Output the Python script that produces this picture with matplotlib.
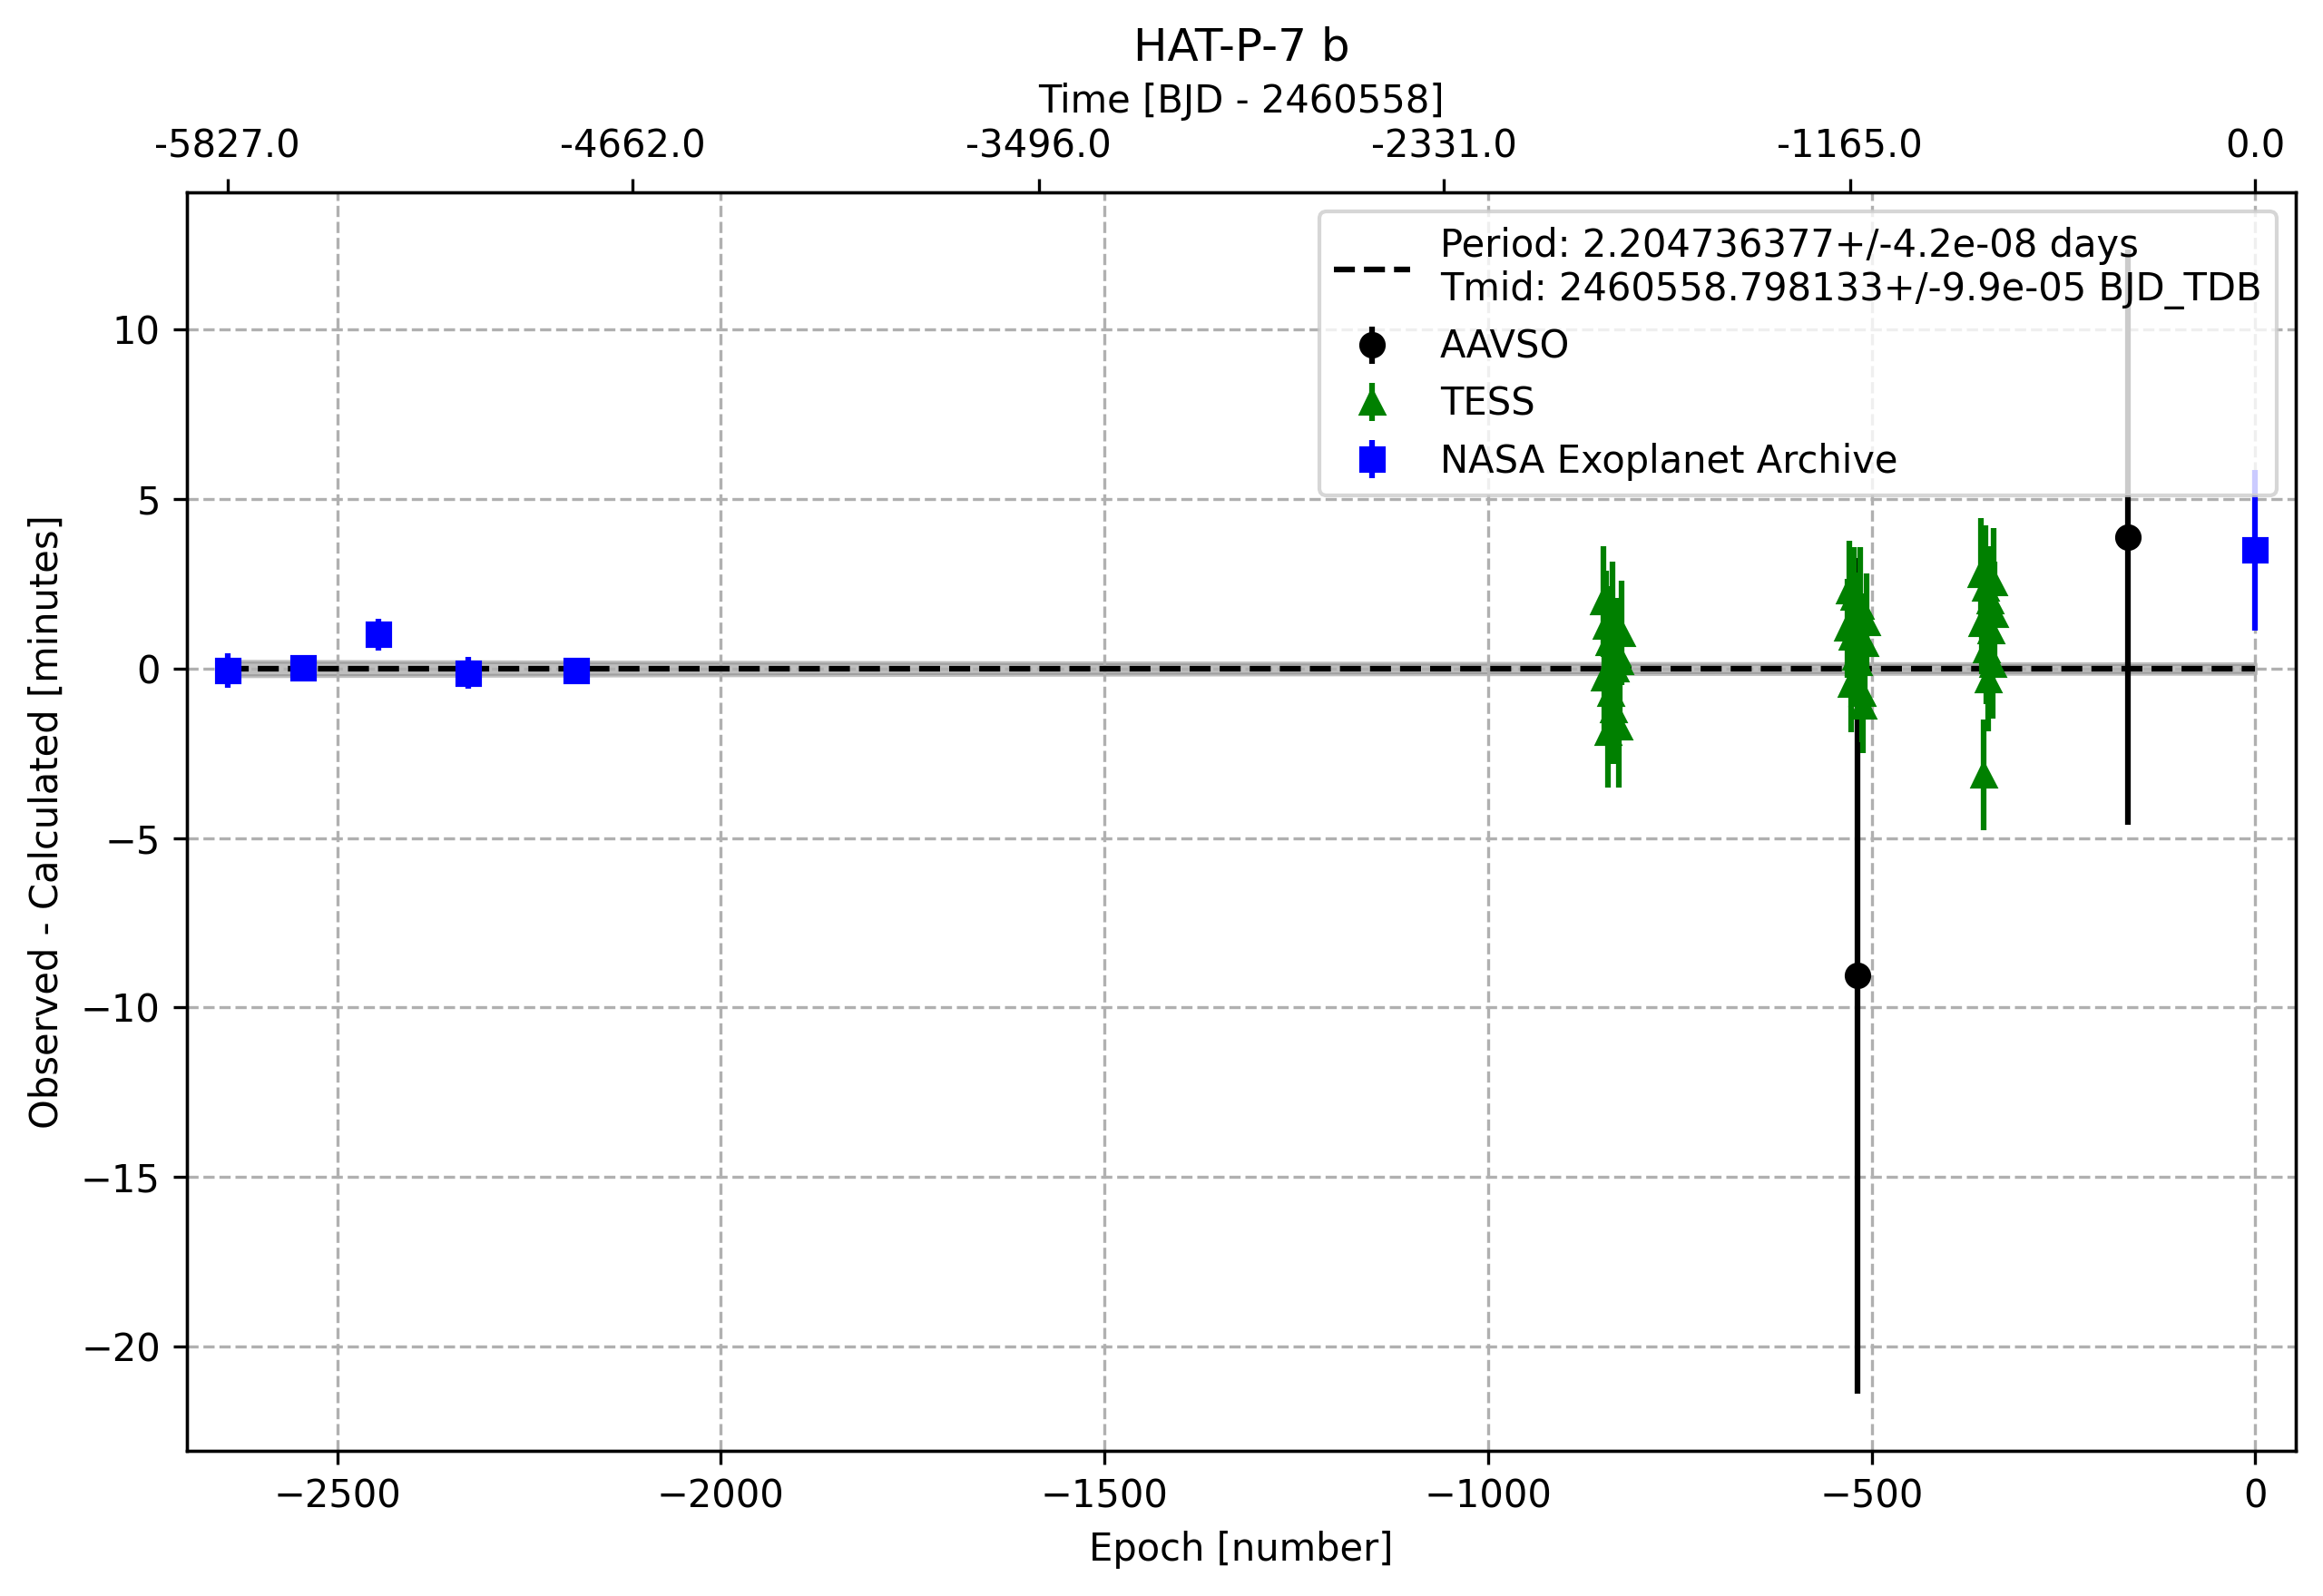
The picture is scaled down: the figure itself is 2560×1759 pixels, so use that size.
import numpy as np
import matplotlib
matplotlib.use("Agg")
import matplotlib.pyplot as plt

# Ephemeris fit shown in the legend
PERIOD = 2.204736377
PERIOD_ERR = 4.2e-08
TMID = 2460558.798133
TMID_ERR = 9.9e-05

# AAVSO observations (epoch, O-C minutes, error minutes)
aavso_epoch = [-519, -166]
aavso_oc = [-9.06, 3.88]
aavso_err = [12.33, 8.48]

# TESS observations, three groups of sectors
tess_epoch = [
    -850, -848, -846, -844, -842, -840, -838, -836, -834, -832, -830, -828, -826,
    -531, -529, -527, -525, -523, -521, -519, -517, -515, -513, -511, -509, -507,
    -358, -356, -354, -352, -350, -348, -346, -344, -342, -341, -340,
]
tess_oc = [
    1.97, -0.28, 1.25, -1.89, 0.77, -0.73, 1.52, -1.22, -0.01, 0.45, -1.73, 0.20, 1.05,
    1.19, 2.30, -0.47, 0.94, 2.10, 0.35, 1.58, 0.17, 1.83, -0.72, -1.10, 0.74, 1.35,
    2.77, 1.34, -3.13, 2.37, 0.56, -0.33, 2.01, 1.12, 0.13, 2.55, 1.60,
]
tess_err = [
    1.64, 1.55, 1.64, 1.61, 1.66, 1.58, 1.63, 1.60, 1.57, 1.62, 1.77, 1.60, 1.55,
    1.45, 1.48, 1.40, 1.50, 1.48, 1.45, 1.26, 1.50, 1.75, 1.45, 1.40, 1.48, 1.45,
    1.68, 1.50, 1.63, 1.86, 1.60, 1.53, 1.60, 1.50, 1.60, 1.60, 1.55,
]

# NASA Exoplanet Archive
nasa_epoch = [-2643, -2544, -2446, -2329, -2189, 0]
nasa_oc = [-0.06, 0.02, 1.00, -0.13, -0.05, 3.49]
nasa_err = [0.50, 0.20, 0.46, 0.46, 0.15, 2.37]

# top axis tick labels (days relative to Tmid)
time_ticks = [-5827.0, -4662.0, -3496.0, -2331.0, -1165.0, 0.0]

fig = plt.figure(figsize=(2560 / 300, 1759 / 300), dpi=300)
ax = fig.add_axes([206 / 2560, 1 - 1599 / 1759, (2530 - 206) / 2560, (1599 - 212) / 1759])

all_epochs = np.array(aavso_epoch + tess_epoch + nasa_epoch)
emin, emax = all_epochs.min(), all_epochs.max()
line_epochs = np.linspace(emin, emax, 500)

# uncertainty of the linear ephemeris, in minutes
sigma = np.sqrt((line_epochs * PERIOD_ERR) ** 2 + TMID_ERR ** 2) * 24 * 60
ax.fill_between(line_epochs, -sigma, sigma, color="grey", alpha=0.5)
label = (f"Period: {PERIOD:.9f}+/-{PERIOD_ERR:.1e} days\n"
         f"Tmid: {TMID:.6f}+/-{TMID_ERR:.1e} BJD_TDB")
ax.plot(line_epochs, np.zeros_like(line_epochs), "k--", label=label)

ax.errorbar(aavso_epoch, aavso_oc, yerr=aavso_err, fmt="o", color="black", label="AAVSO")
ax.errorbar(tess_epoch, tess_oc, yerr=tess_err, fmt="^", color="green", label="TESS")
ax.errorbar(nasa_epoch, nasa_oc, yerr=nasa_err, fmt="s", color="blue",
            label="NASA Exoplanet Archive")

span = emax - emin
ax.set_xlim(emin - 0.02 * span, emax + 0.02 * span)
ax.set_xlabel("Epoch [number]")
ax.set_ylabel("Observed - Calculated [minutes]")
ax.grid(True, linestyle="--")
ax.legend(loc="upper right")

ax2 = ax.twiny()
ax2.set_xlim(ax.get_xlim())
ax2.set_xticks(np.array(time_ticks) / PERIOD)
ax2.set_xticklabels([f"{t:.1f}" for t in time_ticks])
ax2.set_xlabel("Time [BJD - 2460558]")
ax.set_title("HAT-P-7 b", fontsize=12, pad=35)

fig.savefig("out.png", dpi=300)
